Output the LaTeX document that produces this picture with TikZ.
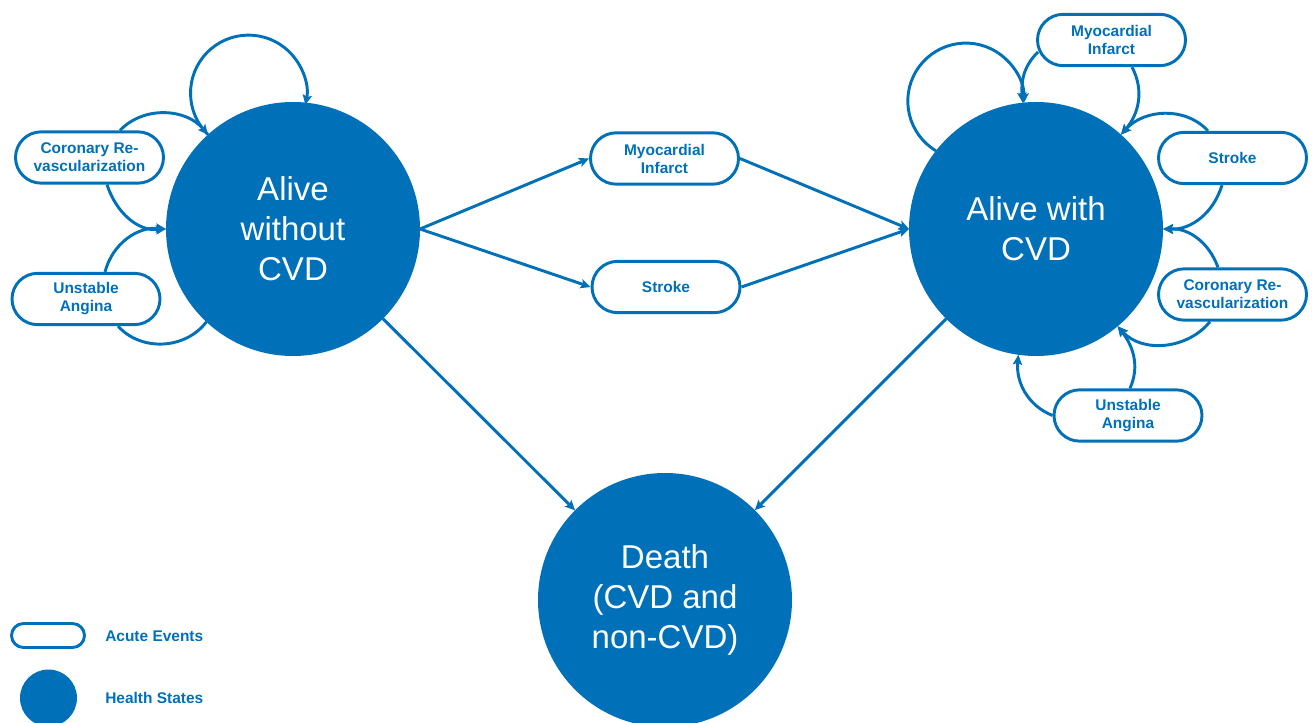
\documentclass[tikz,border=0pt]{standalone}
\usepackage{fontspec}
\setmainfont{Liberation Sans}
\usetikzlibrary{shapes.misc,arrows.meta,calc,backgrounds}
\definecolor{cvdblue}{RGB}{0,112,184}
\begin{document}
\begin{tikzpicture}[x=0.75pt,y=0.75pt,
  state/.style={circle,fill=cvdblue,minimum size=190.5pt,inner sep=0pt,outer sep=0pt,
    text=white,align=center,font=\fontsize{24.75pt}{30pt}\selectfont},
  event/.style={rounded rectangle,draw=cvdblue,line width=2.2pt,fill=white,
    minimum width=111pt,minimum height=38.5pt,inner sep=0pt,text=cvdblue,align=center,
    font=\bfseries\fontsize{11.6pt}{13.5pt}\selectfont},
  legtext/.style={anchor=west,inner sep=0pt,text=cvdblue,font=\bfseries\fontsize{11.6pt}{13.5pt}\selectfont},
  conn/.style={draw=cvdblue,line width=2.2pt},
  arr/.style={conn,-{Stealth[length=7.5pt,width=7pt,inset=1.5pt]}}
]
\useasboundingbox (0,0) rectangle (1312,-723);

% health states
\node[state] (A) at (293,-229) {Alive\\without\\CVD};
\node[state] (B) at (1036,-229) {Alive with\\CVD};
\node[state] (D) at (665,-600) {Death\\(CVD and\\non-CVD)};

% acute events
\node[event] (CRL) at (89.5,-157.5) {Coronary Re-\\vascularization};
\node[event] (UAL) at (86,-299) {Unstable\\Angina};
\node[event] (MIM) at (664.5,-158.5) {Myocardial\\Infarct};
\node[event] (STM) at (666,-287) {Stroke};
\node[event] (MIR) at (1111.5,-40) {Myocardial\\Infarct};
\node[event] (STR) at (1232.5,-158) {Stroke};
\node[event] (CRR) at (1232.5,-294.5) {Coronary Re-\\vascularization};
\node[event] (UAR) at (1128,-415.5) {Unstable\\Angina};

% legend
\node[event,minimum width=54.75pt,minimum height=18pt] (LE) at (48,-635.5) {};
\node[state,minimum size=42.75pt] (LS) at (48.5,-698) {};
\node[legtext] (LEt) at (105,-636) {Acute Events};
\node[legtext] (LSt) at (105,-698) {Health States};

\begin{scope}[on background layer]
% main transitions
\draw[arr] (A.east) -- (MIM.west);
\draw[arr] (A.east) -- (STM.west);
\draw[arr] (MIM.east) -- (B.west);
\draw[arr] (STM.east) -- (B.west);
\draw[arr] (A) -- (D);
\draw[arr] (B) -- (D);

% loops around Alive without CVD
\draw[arr] (A.132) arc[start angle=225.7,end angle=-11.7,radius=43.5pt];
\draw[arr] ($(CRL.north)+(30.5,0)$) to[out=46,in=130] (A.132);
\draw[arr] ($(CRL.south)+(17.5,0)$) to[out=288,in=185] (A.west);
\draw[arr] ($(UAL.north)+(19,0)$) to[out=75,in=175] (A.west);
\draw[conn] ($(UAL.south)+(32,0)$) to[out=312,in=233] (A.227.5);

% loops around Alive with CVD
\draw[arr] (B.142) arc[start angle=239,end angle=-2,radius=43.5pt];
\draw[arr] ($(MIR.west)+(2,-12)$) to[out=224,in=95] (B.96);
\draw[arr] ($(MIR.south)+(20.5,0)$) to[out=-62,in=49] (B.48);
\draw[arr] ($(STR.north)+(-24.5,0)$) to[out=133,in=48] (B.48);
\draw[arr] ($(STR.south)+(-10.5,0)$) to[out=-107,in=-2] (B.east);
\draw[arr] ($(CRR.north)+(-14.5,0)$) to[out=110,in=2] (B.east);
\draw[arr] ($(CRR.south)+(-22.5,0)$) to[out=-129,in=-48] (B.-50);
\draw[arr] ($(UAR.north)+(2,0)$) to[out=66,in=-52] (B.-50);
\draw[arr] (UAR.west) to[out=158,in=265] (B.-98.4);
\end{scope}
\end{tikzpicture}
\end{document}
